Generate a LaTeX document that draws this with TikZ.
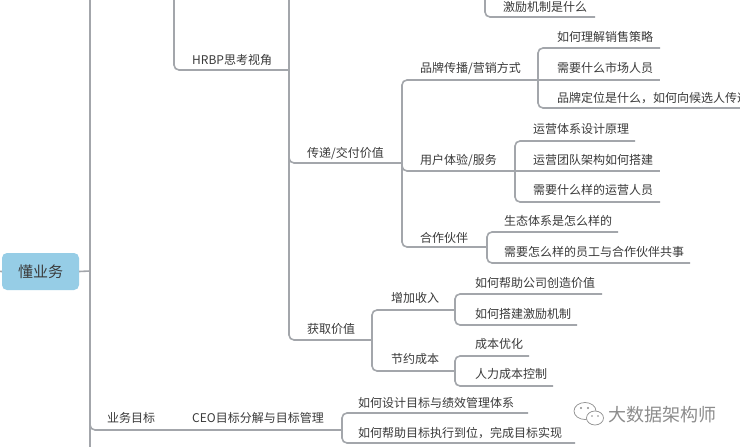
\documentclass[tikz,border=0pt]{standalone}
\usepackage{fontspec}
\newfontfamily\cjk{Noto Sans CJK SC}
\definecolor{lncol}{HTML}{A3A6AB}
\definecolor{txcol}{HTML}{3A3A3A}
\definecolor{rootfill}{HTML}{96CDE6}
\definecolor{wmcol}{HTML}{8C8C8C}
\begin{document}
\begin{tikzpicture}[x=1pt,y=-1pt,
  conn/.style={draw=lncol, line width=1.6pt, rounded corners=5pt},
  topic/.style={font=\cjk\fontsize{12}{14}\selectfont, text=txcol, inner sep=0pt, anchor=base west},
  rootbox/.style={fill=rootfill, rounded corners=5pt, minimum width=77pt, minimum height=37pt, inner sep=0pt,
     font=\cjk\fontsize{15}{17}\selectfont, text=txcol},
  wm/.style={font=\cjk\fontsize{18}{20}\selectfont, text=wmcol, inner sep=0pt, anchor=west}]
\useasboundingbox (0,0) rectangle (740,447);
\fill[white] (0,0) rectangle (740,447);
\clip (0,0) rectangle (740,447);

% junction coordinates
\coordinate (trunkTop) at (90,-6);
\coordinate (trunkBot) at (90,453);
\coordinate (rootIn) at (-6,271);
\coordinate (rootJ) at (90,271);
\coordinate (hrTop) at (174,-6);
\coordinate (hrJ) at (289,70);
\coordinate (hrSpineTop) at (289,-6);
\coordinate (cdJ) at (402,163);
\coordinate (hqJ) at (372,340);
\coordinate (ppJ) at (538,80);
\coordinate (yhJ) at (515,171);
\coordinate (hzJ) at (487,247);
\coordinate (zjJ) at (455,310);
\coordinate (jyJ) at (455,371);
\coordinate (jlTop) at (485,-6);
\coordinate (ywTop) at (90,400);
\coordinate (ceoJ) at (342,430);

% root
\node[rootbox] (root) at (40.5,271.5) {懂业务};
\draw[conn] (rootIn) -- (root.west);
\draw[conn] (root.east) -- (rootJ);
\draw[conn] (trunkTop) -- (trunkBot);

% HRBP branch
\draw[conn] (hrTop) |- (hrJ);
\draw[conn] (hrSpineTop) |- (hqJ);
\draw[conn] (289,150) |- (cdJ);
\draw[conn] (jlTop) |- (595,17);

\node[topic] (hrbp) at (192,64.5) {HRBP思考视角};
\node[topic] (jl) at (503,11.5) {激励机制是什么};
\node[topic] (cd) at (307,157.5) {传递/交付价值};
\node[topic] (hq) at (307,333.5) {获取价值};

% 传递/交付价值 children
\draw[conn] (cdJ) |- (ppJ);
\draw[conn] (cdJ) |- (yhJ);
\draw[conn] (cdJ) |- (hzJ);
\node[topic] (pp) at (420,72.5) {品牌传播/营销方式};
\node[topic] (yh) at (420,164.5) {用户体验/服务};
\node[topic] (hz) at (420,242.5) {合作伙伴};

\draw[conn] (ppJ) |- (660,48);
\draw[conn] (ppJ) -- (660,80);
\draw[conn] (ppJ) |- (746,108);
\node[topic] (pp1) at (557,41.5) {如何理解销售策略};
\node[topic] (pp2) at (557,72.5) {需要什么市场人员};
\node[topic] (pp3) at (557,102.5) {品牌定位是什么，如何向候选人传递};

\draw[conn] (yhJ) |- (635,141);
\draw[conn] (yhJ) -- (660,171);
\draw[conn] (yhJ) |- (660,202);
\node[topic] (yh1) at (533,133.5) {运营体系设计原理};
\node[topic] (yh2) at (533,164.5) {运营团队架构如何搭建};
\node[topic] (yh3) at (533,194.5) {需要什么样的运营人员};

\draw[conn] (hzJ) |- (618,232);
\draw[conn] (hzJ) |- (690,263);
\node[topic] (hz1) at (504,225.5) {生态体系是怎么样的};
\node[topic] (hz2) at (504,256.5) {需要怎么样的员工与合作伙伴共事};

% 获取价值 children
\draw[conn] (hqJ) |- (zjJ);
\draw[conn] (hqJ) |- (jyJ);
\node[topic] (zj) at (391,302.5) {增加收入};
\node[topic] (jy) at (391,363.5) {节约成本};

\draw[conn] (zjJ) |- (602,294);
\draw[conn] (zjJ) |- (577,325);
\node[topic] (zj1) at (475,287.5) {如何帮助公司创造价值};
\node[topic] (zj2) at (475,318.5) {如何搭建激励机制};

\draw[conn] (jyJ) |- (529,356);
\draw[conn] (jyJ) |- (553,386);
\node[topic] (jy1) at (475,348.5) {成本优化};
\node[topic] (jy2) at (475,378.5) {人力成本控制};

% 业务目标
\draw[conn] (ywTop) |- (ceoJ);
\node[topic] (yw) at (107,422.5) {业务目标};
\node[topic] (ceo) at (192,422.5) {CEO目标分解与目标管理};
\draw[conn] (ceoJ) |- (528,413);
\draw[conn] (ceoJ) |- (575,443);
\node[topic] (ceo1) at (358,407.5) {如何设计目标与绩效管理体系};
\node[topic] (ceo2) at (358,437.5) {如何帮助目标执行到位，完成目标实现};

% watermark
\begin{scope}[draw=wmcol, line width=0.7pt]
  \draw (585,411) ellipse [x radius=11pt, y radius=8.5pt];
  \filldraw[fill=white] (595,418) ellipse [x radius=8.5pt, y radius=7pt];
  \fill[wmcol] (581,408) circle (1.1pt) (588,408) circle (1.1pt);
  \fill[wmcol] (592,416) circle (0.9pt) (598,416) circle (0.9pt);
\end{scope}
\node[wm] (wmtext) at (608,415) {大数据架构师};
\end{tikzpicture}
\end{document}
